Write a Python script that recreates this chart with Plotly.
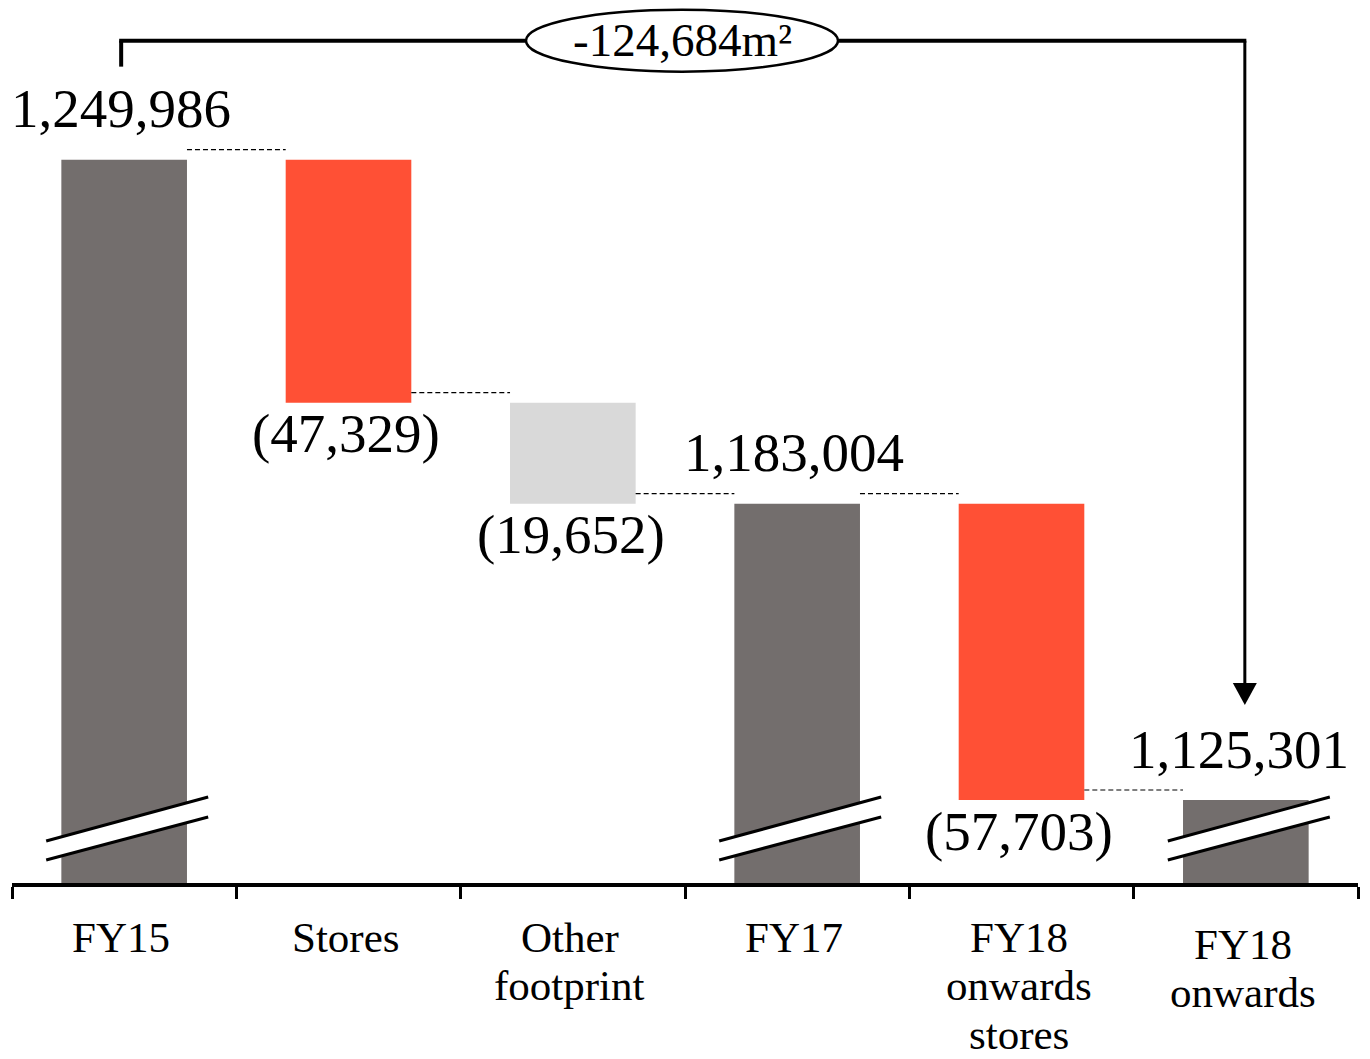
import plotly.graph_objects as go

# ---------------- data ----------------
categories = ["FY15", "Stores", "Other footprint", "FY17", "FY18 onwards stores", "FY18 onwards"]
category_lines = [["FY15"], ["Stores"], ["Other", "footprint"], ["FY17"],
                  ["FY18", "onwards", "stores"], ["FY18", "onwards"]]
kinds = ["total", "delta", "delta", "total", "delta", "total"]
values = [1249986, -47329, -19652, 1183004, -57703, 1125301]
value_labels = ["1,249,986", "(47,329)", "(19,652)", "1,183,004", "(57,703)", "1,125,301"]
total_change_label = "-124,684m²"

# ---------------- style ----------------
C_TOTAL = "#736e6d"
C_NEG = "#ff5035"
C_OTHER = "#d9d9d9"
bar_colors = [C_TOTAL, C_NEG, C_OTHER, C_TOTAL, C_NEG, C_TOTAL]
FONT = "Liberation Serif"

W, H = 1370, 1059
ML, MR, MT, MB = 12, 12, 0, 176
PLOT_W = W - ML - MR
PLOT_H = H - MT - MB
Y_MIN, Y_MAX = 1109140, 1281070
U = (Y_MAX - Y_MIN) / PLOT_H  # data units per pixel
N = len(categories)
BAR_W = 0.56


def xp(i, dx=0.0):
    """paper x for category index i plus pixel offset dx"""
    return (i + 0.5) / N + dx / PLOT_W


# waterfall geometry
bases, heights, ends = [], [], []
level = 0
for k, v in zip(kinds, values):
    if k == "total":
        bases.append(0)
        heights.append(v)
        level = v
    else:
        bases.append(level)
        heights.append(v)
        level = level + v
    ends.append(level)

fig = go.Figure()
fig.add_trace(go.Bar(
    x=categories, y=heights, base=bases, width=BAR_W,
    marker=dict(color=bar_colors, line=dict(width=0)),
    hoverinfo="skip", showlegend=False,
))

shapes = []
annotations = []

# dashed connectors
half_px = BAR_W / 2 * PLOT_W / N
for i in range(N - 1):
    lvl = ends[i] + 10 * U
    shapes.append(dict(type="line", xref="paper", yref="y",
                       x0=xp(i, half_px), x1=xp(i + 1, -half_px), y0=lvl, y1=lvl,
                       line=dict(color="black", width=1.2, dash="5px,3px")))

# axis break marks on total bars
for i, k in enumerate(kinds):
    if k != "total":
        continue
    xl, xr = xp(i, -78), xp(i, 84)
    up_l1, up_r1 = 42, 86
    up_l2, up_r2 = 23, 66
    path = (f"M {xl} {Y_MIN + up_l1*U} L {xr} {Y_MIN + up_r1*U} "
            f"L {xr} {Y_MIN + up_r2*U} L {xl} {Y_MIN + up_l2*U} Z")
    shapes.append(dict(type="path", xref="paper", yref="y", path=path,
                       fillcolor="white", line=dict(width=0)))
    for (a, b) in [(up_l1, up_r1), (up_l2, up_r2)]:
        shapes.append(dict(type="line", xref="paper", yref="y",
                           x0=xl, x1=xr, y0=Y_MIN + a*U, y1=Y_MIN + b*U,
                           line=dict(color="black", width=3)))

# bracket with arrow
first, last = 0, N - 1
top_y = values[first] + 119 * U
shapes.append(dict(type="line", xref="paper", yref="y", x0=xp(first, -3), x1=xp(first, -3),
                   y0=values[first] + 93 * U, y1=top_y, line=dict(color="black", width=4)))
shapes.append(dict(type="line", xref="paper", yref="y", x0=xp(first, -5), x1=xp(last, 0.5),
                   y0=top_y, y1=top_y, line=dict(color="black", width=4)))
arrow_base = values[last] + 117 * U
arrow_tip = values[last] + 95 * U
shapes.append(dict(type="line", xref="paper", yref="y", x0=xp(last, -1), x1=xp(last, -1),
                   y0=top_y, y1=arrow_base, line=dict(color="black", width=3)))
shapes.append(dict(type="path", xref="paper", yref="y",
                   path=f"M {xp(last, -13)} {arrow_base} L {xp(last, 11)} {arrow_base} "
                        f"L {xp(last, -1)} {arrow_tip} Z",
                   fillcolor="black", line=dict(width=0)))
# ellipse label
ex = (682 - ML) / PLOT_W
shapes.append(dict(type="circle", xref="paper", yref="y",
                   x0=ex - 156 / PLOT_W, x1=ex + 156 / PLOT_W,
                   y0=top_y - 31 * U, y1=top_y + 31 * U,
                   fillcolor="white", line=dict(color="black", width=2.5)))
annotations.append(dict(xref="paper", yref="y", x=ex, y=top_y, text=total_change_label,
                        showarrow=False, xanchor="center", yanchor="middle", yshift=1,
                        font=dict(family=FONT, size=47, color="black")))

# value labels
label_dx = [-3, -3, -2, -3, -3, -7]
for i, (k, lab) in enumerate(zip(kinds, value_labels)):
    if k == "total":
        annotations.append(dict(xref="x", yref="y", x=categories[i], y=ends[i], text=lab,
                                showarrow=False, yanchor="middle", yshift=51, xshift=label_dx[i],
                                font=dict(family=FONT, size=55, color="black")))
    else:
        annotations.append(dict(xref="x", yref="y", x=categories[i], y=ends[i], text=lab,
                                showarrow=False, yanchor="middle", yshift=-31, xshift=label_dx[i],
                                font=dict(family=FONT, size=55, color="black")))

# category labels (one annotation per line)
CAT_SIZE = 43
extra_dy = [0, 0, 0, 0, 0, 7]
for i, lines in enumerate(category_lines):
    for j, t in enumerate(lines):
        if j < 2:
            annotations.append(dict(xref="x", yref="paper", x=categories[i], y=0, text=t,
                                    showarrow=False, yanchor="middle", borderpad=0,
                                    yshift=-(54 + extra_dy[i] + 48 * j), xshift=-3,
                                    font=dict(family=FONT, size=CAT_SIZE, color="black")))
        else:
            # third line sits on the bottom edge of the page
            annotations.append(dict(xref="x", yref="paper", x=categories[i], y=0, text=t,
                                    showarrow=False, yanchor="bottom", borderpad=0,
                                    yshift=-MB, xshift=-3,
                                    font=dict(family=FONT, size=CAT_SIZE, color="black")))

fig.update_layout(
    width=W, height=H,
    margin=dict(l=ML, r=MR, t=MT, b=MB),
    paper_bgcolor="white", plot_bgcolor="white",
    shapes=shapes, annotations=annotations,
    xaxis=dict(type="category", range=[-0.5, N - 0.5], showgrid=False, zeroline=False,
               showline=True, linecolor="black", linewidth=4,
               ticks="outside", tickson="boundaries", ticklen=12, tickwidth=3,
               tickcolor="black", showticklabels=False),
    yaxis=dict(range=[Y_MIN, Y_MAX], visible=False, showgrid=False, zeroline=False),
)

fig.write_html("out.html")
